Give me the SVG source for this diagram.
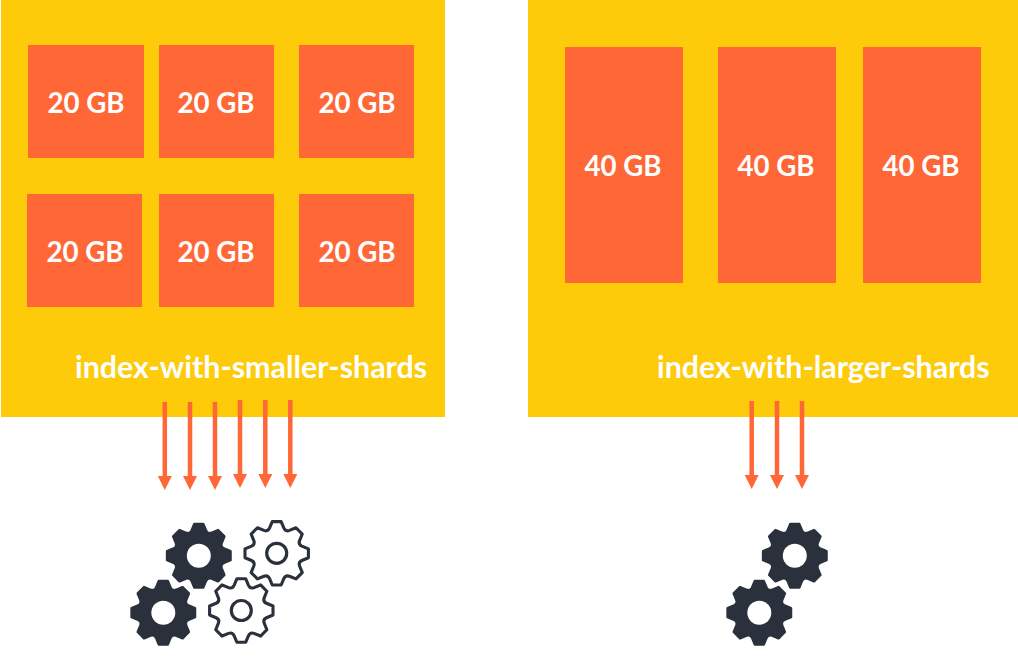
<svg xmlns="http://www.w3.org/2000/svg" width="1018" height="660" viewBox="0 0 1018 660">
<style>
.panel{fill:#fdcb09}
.shard{fill:#ff6737}
text{font-family:"Lato","Noto Sans",sans-serif;font-weight:700;fill:#fff}
.size{font-size:27.7px;text-anchor:middle}
.name{font-size:30.4px}
.arrow{stroke:#ff6737;stroke-width:4.5;fill:none;marker-end:url(#head)}
.solid{fill:#2b303d;stroke:#2b303d;stroke-width:2.6;stroke-linejoin:round}
.hole{fill:#fff}
.outline{fill:#fff;stroke:#2b303d;stroke-width:3.200;stroke-linejoin:round}
</style>
<defs>
<marker id="head" markerUnits="userSpaceOnUse" markerWidth="15" markerHeight="15" refX="1" refY="7.500" orient="auto"><path d="M0 0.500L14 7.500L0 14.500Z" fill="#ff6737"/></marker>
<path id="gear" transform="scale(.97)" d="M-7.440 -25.950L-4.590 -32.680L4.590 -32.680L7.440 -25.950Q9.180 -22.170 13.090 -23.610L19.860 -26.350L26.350 -19.860L23.610 -13.090Q22.170 -9.180 25.950 -7.440L32.680 -4.590L32.680 4.590L25.950 7.440Q22.170 9.180 23.610 13.090L26.350 19.860L19.860 26.350L13.090 23.610Q9.180 22.170 7.440 25.950L4.590 32.680L-4.590 32.680L-7.440 25.950Q-9.180 22.170 -13.090 23.610L-19.860 26.350L-26.350 19.860L-23.610 13.090Q-22.170 9.180 -25.950 7.440L-32.680 4.590L-32.680 -4.590L-25.950 -7.440Q-22.170 -9.180 -23.610 -13.090L-26.350 -19.860L-19.860 -26.350L-13.090 -23.610Q-9.180 -22.170 -7.440 -25.950Z"/>
</defs>
<g id="index-smaller">
<rect class="panel" x="1" y="0" width="444" height="417"/>
<text class="name" x="75" y="378">index-with-smaller-shards</text>
</g>
<g id="index-larger">
<rect class="panel" x="528" y="0" width="490" height="417"/>
<text class="name" x="657" y="378">index-with-larger-shards</text>
</g>
<g id="s1"><rect class="shard" x="28" y="45" width="116" height="113"/><text class="size" x="86" y="113">20 GB</text></g>
<g id="s2"><rect class="shard" x="159" y="45" width="115" height="113"/><text class="size" x="216" y="113">20 GB</text></g>
<g id="s3"><rect class="shard" x="299" y="45" width="115" height="113"/><text class="size" x="357" y="113">20 GB</text></g>
<g id="s4"><rect class="shard" x="27" y="194" width="115" height="113"/><text class="size" x="85" y="262">20 GB</text></g>
<g id="s5"><rect class="shard" x="159" y="194" width="115" height="113"/><text class="size" x="216" y="262">20 GB</text></g>
<g id="s6"><rect class="shard" x="299" y="194" width="115" height="113"/><text class="size" x="357" y="262">20 GB</text></g>
<g id="l1"><rect class="shard" x="565" y="47" width="118" height="236"/><text class="size" x="623" y="176">40 GB</text></g>
<g id="l2"><rect class="shard" x="718" y="47" width="118" height="236"/><text class="size" x="776" y="176">40 GB</text></g>
<g id="l3"><rect class="shard" x="863" y="47" width="118" height="236"/><text class="size" x="921" y="176">40 GB</text></g>
<g id="connectors">
<path class="arrow" d="M164.800 402V477"/>
<path class="arrow" d="M190 402V477"/>
<path class="arrow" d="M215 402V477"/>
<path class="arrow" d="M240 400V475"/>
<path class="arrow" d="M265.300 400V475"/>
<path class="arrow" d="M290.300 400V475"/>
<path class="arrow" d="M751.700 401V476"/>
<path class="arrow" d="M777 401V476"/>
<path class="arrow" d="M802 401V476"/>
</g>
<g id="gear-a" transform="translate(198.800 555.700)"><use href="#gear" class="solid"/><circle class="hole" r="12"/></g>
<g id="gear-b" transform="translate(163.300 612.700)"><use href="#gear" class="solid"/><circle class="hole" r="12"/></g>
<g id="gear-c" transform="translate(276.700 553.300)"><use href="#gear" class="outline"/><circle class="outline" r="10"/></g>
<g id="gear-d" transform="translate(241.300 610.500)"><use href="#gear" class="outline"/><circle class="outline" r="10"/></g>
<g id="gear-e" transform="translate(794.800 555.700)"><use href="#gear" class="solid"/><circle class="hole" r="12"/></g>
<g id="gear-f" transform="translate(759.300 612.700)"><use href="#gear" class="solid"/><circle class="hole" r="12"/></g>
</svg>
